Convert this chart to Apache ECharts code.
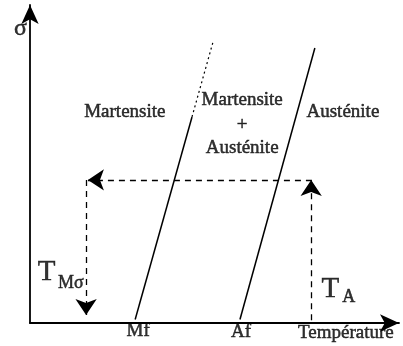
<!DOCTYPE html>
<html>
<head>
<meta charset="utf-8">
<script src="https://cdn.jsdelivr.net/npm/echarts@6/dist/echarts.min.js"></script>
<style>
html,body{margin:0;padding:0;background:#fff;}
#c{width:403px;height:346px;}
</style>
</head>
<body>
<div id="c"></div>
<script>
// Phase boundaries (temperature, stress) in arbitrary units
const mfLineSolid = [[28.5, 1.1], [43.9, 64.8]];
const mfLineDotted = [[43.9, 64.8], [49.6, 88.4]];
const afLine = [[56.9, 1.1], [77.2, 86.5]];
// Loading path (dashed arrows)
const pathLeft = [[76.4, 45.0], [15.7, 45.0]];
const pathDown = [[15.2, 45.0], [15.2, 2.5]];
const pathUp = [[76.2, 0.9], [76.2, 45.0]];
// Text annotations: [x, y, text]
const regionLabels = [
  [25.7, 66.4, 'Martensite'],
  [57.5, 70.1, 'Martensite'],
  [57.5, 62.3, '+'],
  [57.5, 55.0, 'Austénite'],
  [84.8, 66.4, 'Austénite']
];
const axisLabels = [
  [29.3, -2.5, 'Mf'],
  [57.2, -2.8, 'Af'],
  [85.6, -3.1, 'Température']
];
const sigmaLabel = [[-2.6, 92.6, 'σ']];
const bigT = [
  [4.5, 16.0, 'T'],
  [81.4, 10.7, 'T']
];
const subs = [
  [11.1, 12.6, 'Mσ'],
  [86.4, 8.0, 'A']
];

const FONT = '"Liberation Serif", "DejaVu Serif", serif';
const chart = echarts.init(document.getElementById('c'));

function textSeries(arr, size) {
  return {
    type: 'scatter',
    symbolSize: 0,
    clip: false,
    silent: true,
    data: arr.map(d => ({value: [d[0], d[1]], name: d[2]})),
    label: {
      show: true,
      position: 'inside',
      formatter: p => p.name,
      color: '#000',
      fontFamily: FONT,
      fontSize: size,
      align: 'center',
      verticalAlign: 'middle',
      textBorderColor: '#000',
      textBorderWidth: 0.5
    }
  };
}
function dashedArrow(seg) {
  return {
    type: 'lines',
    coordinateSystem: 'cartesian2d',
    silent: true,
    symbol: ['none', 'arrow'],
    symbolSize: [12, 16],
    lineStyle: {color: '#000', width: 1.3, type: [6, 5], opacity: 1},
    data: [{coords: seg}]
  };
}
function plainLine(seg, type, w) {
  return {
    type: 'line',
    silent: true,
    symbol: 'none',
    clip: false,
    data: seg,
    lineStyle: {color: '#000', width: w, type: type}
  };
}

const axisCommon = {
  type: 'value',
  min: 0,
  max: 100,
  splitLine: {show: false},
  axisTick: {show: false},
  axisLabel: {show: false},
  axisLine: {
    show: true,
    onZero: false,
    symbol: ['none', 'arrow'],
    symbolSize: [13, 19],
    lineStyle: {color: '#000', width: 1.8}
  }
};

chart.setOption({
  animation: false,
  backgroundColor: '#fff',
  grid: {left: 30, top: 5, right: 4, bottom: 23},
  xAxis: axisCommon,
  yAxis: axisCommon,
  series: [
    plainLine(mfLineSolid, 'solid', 1.5),
    plainLine(mfLineDotted, [2, 3], 1.2),
    plainLine(afLine, 'solid', 1.5),
    dashedArrow(pathLeft),
    dashedArrow(pathDown),
    dashedArrow(pathUp),
    textSeries(regionLabels, 19),
    textSeries(axisLabels, 19),
    textSeries(sigmaLabel, 24),
    textSeries(bigT, 29),
    textSeries(subs, 18)
  ]
});
</script>
</body>
</html>
